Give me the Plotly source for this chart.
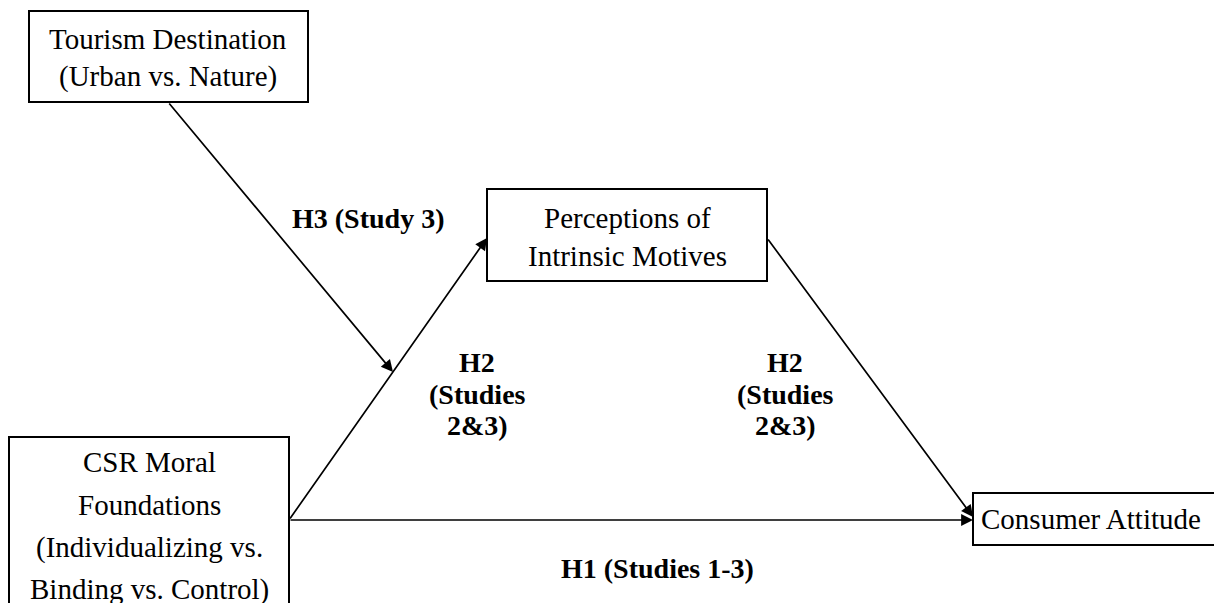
import plotly.graph_objects as go

# Node labels (one list per box, lines in order)
node_tourism = ["Tourism Destination", "(Urban vs. Nature)"]
node_perceptions = ["Perceptions of", "Intrinsic Motives"]
node_csr = ["CSR Moral", "Foundations", "(Individualizing vs.", "Binding vs. Control)"]
node_consumer = ["Consumer Attitude"]

# Path labels
label_h3 = ["H3 (Study 3)"]
label_h2_left = ["H2", "(Studies", "2&3)"]
label_h2_right = ["H2", "(Studies", "2&3)"]
label_h1 = ["H1 (Studies 1-3)"]

W, H = 1214, 603
fig = go.Figure()
fig.add_trace(go.Scatter(x=[0, W], y=[0, H], mode="markers",
                         marker=dict(opacity=0), hoverinfo="skip", showlegend=False))

serif = "Liberation Serif, Times New Roman, serif"
box_font = dict(family=serif, size=29, color="black")
bold_font = dict(family=serif, size=28, color="black")

def box(x0, y0, x1, y1):
    fig.add_shape(type="rect", x0=x0, y0=y0, x1=x1, y1=y1, xref="x", yref="y",
                  line=dict(color="black", width=2), fillcolor="white", layer="above")

def lines(texts, cx, ys, font, bold=False):
    for t, y in zip(texts, ys):
        fig.add_annotation(x=cx, y=y, xref="x", yref="y",
                           text=f"<b>{t}</b>" if bold else t, showarrow=False,
                           font=font, xanchor="center", yanchor="middle")

def arrow(x0, y0, x1, y1):
    fig.add_annotation(x=x1, y=y1, ax=x0, ay=y0, xref="x", yref="y", axref="x", ayref="y",
                       text="", showarrow=True, arrowhead=2, arrowsize=1.4,
                       arrowwidth=1.7, arrowcolor="black", standoff=0, startstandoff=0)

# arrows
arrow(168, 102, 393, 372)
arrow(289, 520, 487, 238)
arrow(289, 520, 973, 520)
arrow(767, 238, 973, 517)

# boxes
box(29, 11, 308, 102)
box(487, 189, 767, 281)
box(9, 437, 289, 640)
box(973, 493, 1260, 545)

lines(node_tourism, 168, [39, 76], box_font)
lines(node_perceptions, 627, [218, 256], box_font)
lines(node_csr, 149, [462, 505, 547, 589], box_font)
lines(node_consumer, 1091, [519], box_font)

lines(label_h3, 368, [218], bold_font, bold=True)
lines(label_h2_left, 477, [362, 394, 425], bold_font, bold=True)
lines(label_h2_right, 785, [362, 394, 425], bold_font, bold=True)
lines(label_h1, 657, [568], bold_font, bold=True)

fig.update_layout(
    width=W, height=H, margin=dict(l=0, r=0, t=0, b=0),
    paper_bgcolor="white", plot_bgcolor="white", showlegend=False,
    xaxis=dict(range=[0, W], visible=False, fixedrange=True),
    yaxis=dict(range=[H, 0], visible=False, fixedrange=True),
)
fig.write_html(
    "out.html",
    config={"displayModeBar": False},
    post_script="document.body.style.margin='0';document.body.style.overflow='hidden';",
)
